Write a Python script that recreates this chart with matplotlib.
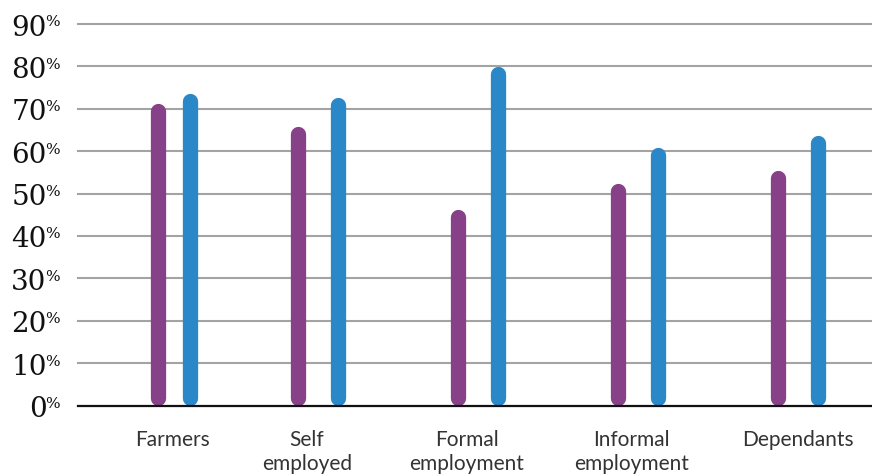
import matplotlib
matplotlib.use("Agg")
import matplotlib.pyplot as plt
import matplotlib.transforms as mtransforms

categories = ["Farmers", "Self\nemployed", "Formal\nemployment", "Informal\nemployment", "Dependants"]
series_a = [71.2, 65.8, 46.2, 52.5, 55.4]   # purple
series_b = [73.6, 72.6, 80.0, 61.0, 63.8]   # blue
yticks = [0, 10, 20, 30, 40, 50, 60, 70, 80, 90]

# layout (category positions on the x scale)
group_x = [0.1, 1.0, 2.0, 3.0, 4.0]
half_gap = [0.1, 0.125, 0.125, 0.125, 0.125]
label_x = [0.09, 0.93, 1.93, 2.96, 4.0]

purple = "#874189"
blue = "#2a88c8"

W, H = 872, 474
fig = plt.figure(figsize=(W / 100, H / 100), dpi=100)
ax_left, ax_right = 78 / W, 1.0
ax_bottom, ax_top = (H - 405.5) / H, (H - 24) / H
ax = fig.add_axes([ax_left, ax_bottom, ax_right - ax_left, ax_top - ax_bottom])

ax.set_xlim(-0.5, 4.4625)
ax.set_ylim(0, 90)

for y in yticks[1:]:
    ax.axhline(y, color="#a3a3a3", lw=1.5, zorder=1, clip_on=False)
ax.axhline(0, color="#111111", lw=1.6, zorder=3, clip_on=False)

lw_pt = 11.0
px_per_unit = (405.5 - 24) / 90.0
cap = (lw_pt * 100 / 72 / 2) / px_per_unit
for gx, hg, a, b in zip(group_x, half_gap, series_a, series_b):
    for x, v, c in ((gx - hg, a, purple), (gx + hg, b, blue)):
        ax.plot([x, x], [cap, v - cap], color=c, lw=lw_pt,
                solid_capstyle="round", zorder=2)

for s in ax.spines.values():
    s.set_visible(False)
ax.set_xticks([])
ax.set_yticks([])

# y tick labels with superscript percent
ytr = ax.get_yaxis_transform()
for y in yticks:
    t_num = mtransforms.offset_copy(ytr, fig=fig, x=-31.3 * 0.72, y=-11.5 * 0.72, units="points")
    ax.text(0, y, str(y), transform=t_num, ha="right", va="baseline",
            fontsize=20, family="DejaVu Serif", color="#111111")
    t_pct = mtransforms.offset_copy(ytr, fig=fig, x=-33.0 * 0.72, y=8.5 * 0.72, units="points")
    ax.text(0, y, "%", transform=t_pct, ha="left", va="top",
            fontsize=11, family="DejaVu Serif", color="#111111")

# x category labels
xtr = ax.get_xaxis_transform()
for lx, lab in zip(label_x, categories):
    t = mtransforms.offset_copy(xtr, fig=fig, x=0, y=-24 * 0.72, units="points")
    ax.text(lx, 0, lab, transform=t, ha="center", va="top", fontsize=15,
            family="Lato", fontweight="normal", color="#333333", linespacing=1.3)

fig.savefig("out.png", dpi=100)
